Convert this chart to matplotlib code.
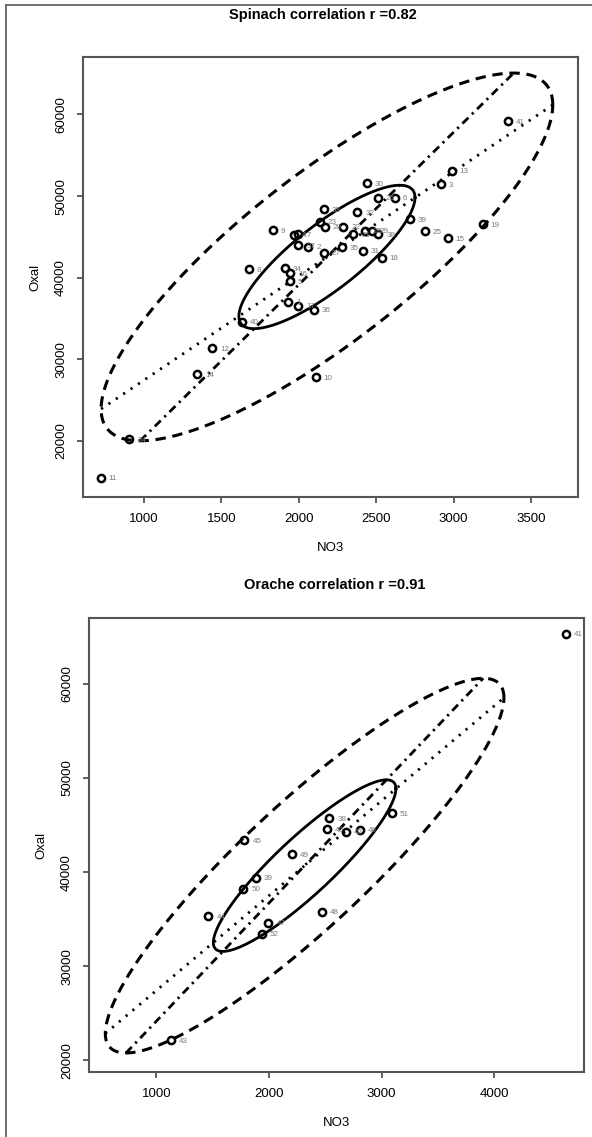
import numpy as np
import matplotlib.pyplot as plt
from matplotlib.lines import Line2D

plt.rcParams['font.family'] = ['Liberation Sans', 'DejaVu Sans']

# Spinach panel
sp_no3 = [720, 905, 1344, 1439, 1631, 1676, 2110, 1831, 1969, 1997,
          2163, 2378, 2440, 2510, 2621, 2718, 2815, 2962, 3188, 2919,
          2988, 3353, 2535, 2413, 2277, 2163, 2352, 2428, 2471, 2514,
          2287, 2169, 2137, 2061, 1997, 1911, 1943, 1943, 1932, 1997, 2098]
sp_oxal = [15508, 20208, 28164, 31346, 34602, 41053, 27830, 45789, 45251, 45337,
           48396, 47993, 51579, 49829, 49829, 47136, 45704, 44810, 46561, 51457,
           53084, 59168, 42436, 43293, 43709, 43048, 45337, 45741, 45741, 45300,
           46230, 46230, 46842, 43782, 43990, 41139, 40527, 39584, 37050, 36561, 36071]
sp_ids = ['11', '24', '14', '12', '40', '8', '10', '9', '4', '7',
          '33', '32', '30', '26', '6', '39', '25', '15', '19', '3',
          '13', '41', '18', '31', '35', '27', '21', '28', '29', '38',
          '22', '20', '23', '2', '37', '34', '16', '5', '1', '17', '36']

# Orache panel
or_no3 = [4638, 1131, 1461, 1781, 1885, 1772, 2202, 2536, 2512, 2684,
          2808, 3090, 1994, 1935, 2473]
or_oxal = [65338, 22135, 35298, 43412, 39398, 38256, 41885, 45729, 44554, 44266,
           44480, 46262, 34594, 33452, 35768]
or_ids = ['41', '43', '44', '45', '39', '50', '49', '38', '40', '42',
          '46', '51', '47', '52', '48']

# ellipse read-offs: centre, outer half extents, correlation, inner scale
sp_ell = dict(cx=2182, cy=42550, hx=1459, hy=22520, r=0.827, inner=0.39)
or_ell = dict(cx=2316, cy=40690, hx=1770, hy=19915, r=0.896, inner=0.458)

W, H = 592, 1137
fig = plt.figure(figsize=(W / 100, H / 100), dpi=100)


def panel(rect, x, y, ids, ell, xlim, ylim, xticks, yticks):
    ax = fig.add_axes(rect)
    t = np.linspace(0, 2 * np.pi, 400)
    r = ell['r']
    for s, ls, lw in [(1.0, (0, (3.4, 2.2)), 2.2), (ell['inner'], '-', 2.0)]:
        ex = ell['cx'] + s * ell['hx'] * np.cos(t)
        ey = ell['cy'] + s * ell['hy'] * (r * np.cos(t) + np.sqrt(1 - r * r) * np.sin(t))
        ax.plot(ex, ey, color='black', ls=ls, lw=lw)
    # y on x line (vertical tangents) and x on y line (horizontal tangents)
    ax.plot([ell['cx'] - ell['hx'], ell['cx'] + ell['hx']],
            [ell['cy'] - r * ell['hy'], ell['cy'] + r * ell['hy']],
            color='black', ls=(0, (0.8, 2.4)), lw=2.0)
    ax.plot([ell['cx'] - r * ell['hx'], ell['cx'] + r * ell['hx']],
            [ell['cy'] - ell['hy'], ell['cy'] + ell['hy']],
            color='black', ls=(0, (3, 1.8, 0.8, 1.8)), lw=2.0)
    ax.plot(x, y, 'o', ms=5.2, mfc='none', mec='black', mew=1.8)
    for xi, yi, lab in zip(x, y, ids):
        a = ax.annotate(lab, (xi, yi), xytext=(8, -1), textcoords='offset pixels',
                        fontsize=5.8, color='#7a7a7a', va='center', ha='left')
        a.set_clip_on(True)
    ax.set_xlim(xlim)
    ax.set_ylim(ylim)
    ax.set_xticks(xticks)
    ax.set_yticks(yticks)
    ax.tick_params(direction='out', length=4.5, width=1.2, color='#444444',
                   labelsize=9.5, pad=7)
    for lab in ax.get_yticklabels():
        lab.set_rotation(90)
        lab.set_va('center')
    for sp in ax.spines.values():
        sp.set_color('#555555')
        sp.set_linewidth(1.5)
    ax.set_xlabel('NO3', fontsize=9.5, labelpad=12)
    ax.set_ylabel('Oxal', fontsize=9.5, labelpad=10)
    return ax


panel([83 / W, 1 - 497 / H, 495 / W, 440 / H], sp_no3, sp_oxal, sp_ids, sp_ell,
      (606, 3804), (13146, 67038),
      [1000, 1500, 2000, 2500, 3000, 3500], [20000, 30000, 40000, 50000, 60000])
panel([89 / W, 1 - 1072 / H, 495 / W, 454 / H], or_no3, or_oxal, or_ids, or_ell,
      (401, 4797), (18751, 67014),
      [1000, 2000, 3000, 4000], [20000, 30000, 40000, 50000, 60000])

fig.text(323 / W, 1 - 15 / H, 'Spinach correlation r =0.82', ha='center', va='center',
         fontsize=10.5, fontweight='bold')
fig.text(335 / W, 1 - 585 / H, 'Orache correlation r =0.91', ha='center', va='center',
         fontsize=10.5, fontweight='bold')

# outer frame of the figure (left and top edges)
fig.add_artist(Line2D([6 / W, 1], [1 - 5 / H, 1 - 5 / H], transform=fig.transFigure,
                      color='#666666', lw=1.3))
fig.add_artist(Line2D([6 / W, 6 / W], [0, 1 - 5 / H], transform=fig.transFigure,
                      color='#666666', lw=1.3))

fig.savefig('out.png', dpi=100)
